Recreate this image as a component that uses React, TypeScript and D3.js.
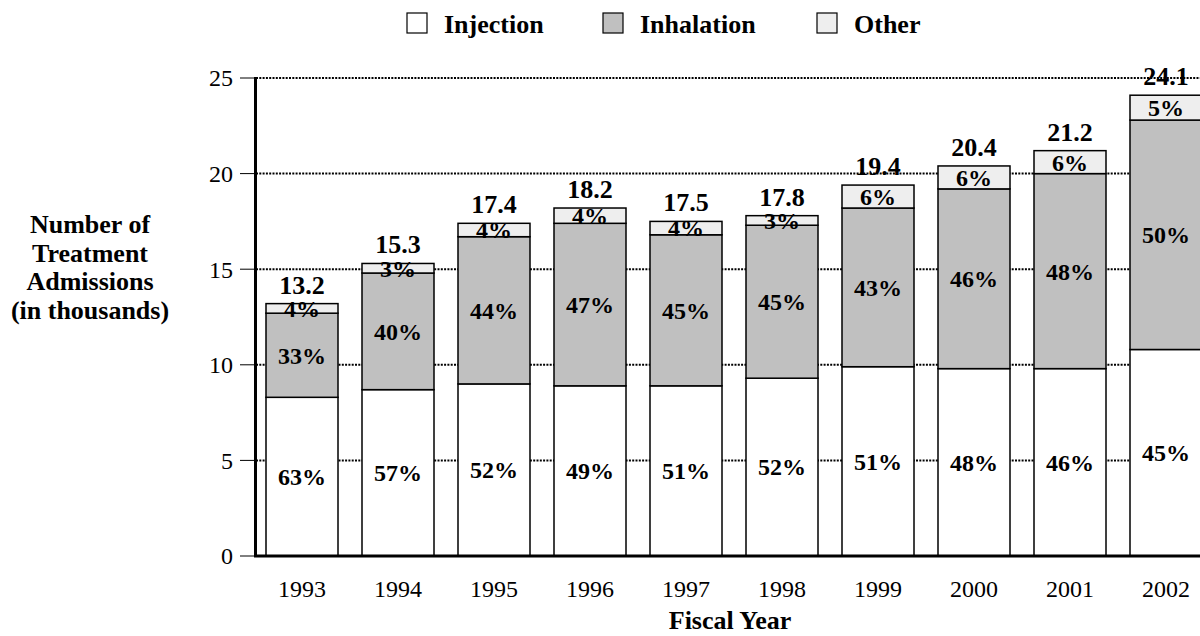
import * as d3 from "d3";

const years = ["1993", "1994", "1995", "1996", "1997", "1998", "1999", "2000", "2001", "2002"];
// thousands of admissions
const injection = [8.3, 8.7, 9.0, 8.9, 8.9, 9.3, 9.9, 9.8, 9.8, 10.8];
const inhalation = [4.4, 6.1, 7.7, 8.5, 7.9, 8.0, 8.3, 9.4, 10.2, 12.0];
const other = [0.5, 0.5, 0.7, 0.8, 0.7, 0.5, 1.2, 1.2, 1.2, 1.3];
const totalLabels = ["13.2", "15.3", "17.4", "18.2", "17.5", "17.8", "19.4", "20.4", "21.2", "24.1"];
const injectionPct = ["63%", "57%", "52%", "49%", "51%", "52%", "51%", "48%", "46%", "45%"];
const inhalationPct = ["33%", "40%", "44%", "47%", "45%", "45%", "43%", "46%", "48%", "50%"];
const otherPct = ["4%", "3%", "4%", "4%", "4%", "3%", "6%", "6%", "6%", "5%"];
const yTicks = [0, 5, 10, 15, 20, 25];

const keys = ["injection", "inhalation", "other"] as const;
const names = ["Injection", "Inhalation", "Other"];
const colors = ["#ffffff", "#c0c0c0", "#eeeeee"];
const pctLabels = [injectionPct, inhalationPct, otherPct];

const font = "'Liberation Serif', 'Times New Roman', serif";

export default function App() {
  const width = 1200;
  const height = 636;

  const x = d3.scaleBand().domain(years).range([254, 1214]).paddingInner(0.25).paddingOuter(0.125);
  const y = d3.scaleLinear().domain([0, 25]).range([556, 78]);

  const rows = years.map((yr, i) => ({
    year: yr,
    injection: injection[i],
    inhalation: inhalation[i],
    other: other[i],
  }));
  const series = d3.stack<any>().keys(keys as any)(rows);

  // legend positions
  const legendX = [407, 603, 817];

  return (
    <svg
      width={width}
      height={height}
      viewBox={`0 0 ${width} ${height}`}
      style={{ position: "absolute", left: 0, top: 0, background: "#fff", fontFamily: font }}
    >
      <rect width={width} height={height} fill="#fff" />

      {/* legend */}
      {names.map((n, i) => (
        <g key={n}>
          <rect x={legendX[i]} y={13} width={20} height={20} fill={colors[i]} stroke="#000" strokeWidth={1.2} />
          <text x={legendX[i] + 37} y={33} fontSize={26} fontWeight="bold">
            {n}
          </text>
        </g>
      ))}

      {/* dotted gridlines */}
      {yTicks.filter((t) => t > 0).map((t) => (
        <line
          key={t}
          x1={256}
          x2={width}
          y1={y(t)}
          y2={y(t)}
          stroke="#000"
          strokeWidth={2}
          strokeDasharray="2,1.3"
        />
      ))}

      {/* bars */}
      {series.map((s, k) =>
        s.map((d, i) => (
          <rect
            key={`${k}-${i}`}
            x={x(years[i])}
            y={y(d[1])}
            width={x.bandwidth()}
            height={y(d[0]) - y(d[1])}
            fill={colors[k]}
            stroke="#000"
            strokeWidth={1.5}
          />
        ))
      )}

      {/* percent labels */}
      {series.map((s, k) =>
        s.map((d, i) => (
          <text
            key={`p${k}-${i}`}
            x={x(years[i])! + x.bandwidth() / 2}
            y={(y(d[0]) + y(d[1])) / 2}
            dy="0.35em"
            textAnchor="middle"
            fontSize={24}
            fontWeight="bold"
          >
            {pctLabels[k][i]}
          </text>
        ))
      )}

      {/* totals */}
      {series[2].map((d, i) => (
        <text
          key={`t${i}`}
          x={x(years[i])! + x.bandwidth() / 2}
          y={y(d[1]) - 10}
          textAnchor="middle"
          fontSize={26}
          fontWeight="bold"
        >
          {totalLabels[i]}
        </text>
      ))}

      {/* axes */}
      <line x1={254} x2={width} y1={y(0)} y2={y(0)} stroke="#000" strokeWidth={3} />
      <line x1={255.5} x2={255.5} y1={y(25) - 1} y2={y(0) + 1} stroke="#000" strokeWidth={3} />
      {yTicks.map((t) => (
        <g key={`yt${t}`}>
          <line x1={240} x2={255} y1={y(t)} y2={y(t)} stroke="#000" strokeWidth={1} />
          <text x={233} y={y(t)} dy="0.35em" textAnchor="end" fontSize={24}>
            {t}
          </text>
        </g>
      ))}
      {years.map((yr) => (
        <text key={`xl${yr}`} x={x(yr)! + x.bandwidth() / 2} y={597} textAnchor="middle" fontSize={24}>
          {yr}
        </text>
      ))}

      <text x={730} y={629} textAnchor="middle" fontSize={26} fontWeight="bold">
        Fiscal Year
      </text>
      <text x={90} fontSize={26} fontWeight="bold" textAnchor="middle">
        {["Number of", "Treatment", "Admissions", "(in thousands)"].map((l, i) => (
          <tspan key={l} x={90} y={233 + i * 28.5}>
            {l}
          </tspan>
        ))}
      </text>
    </svg>
  );
}
